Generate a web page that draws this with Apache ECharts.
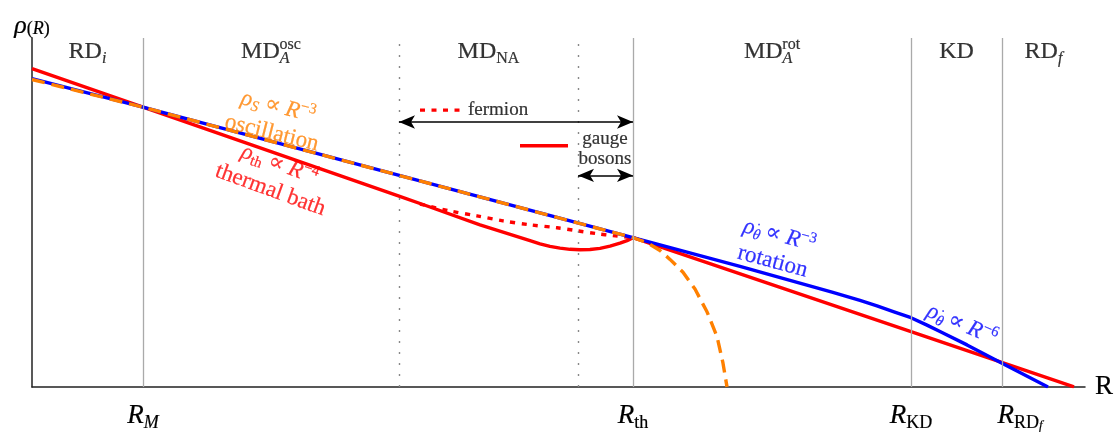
<!DOCTYPE html>
<html><head><meta charset="utf-8">
<script src="https://cdn.jsdelivr.net/npm/echarts@6/dist/echarts.min.js"></script>
<style>html,body{margin:0;padding:0;background:#fff}#c{width:1120px;height:432px}</style>
</head><body><div id="c"></div>
<script>
// Schematic: x = log R, y = log rho (arbitrary units)
const boundaries = [1.11, 3.67, 5.46, 6.01, 8.79, 9.70];
const boundaryDotted = [false, true, true, false, false, false];
const regionStart = [0, 1.11, 3.67, 6.01, 8.79, 9.70];
const regionEnd = [1.11, 3.67, 5.46, 8.79, 9.70, 10.53];
const regionMain = ['RD', 'MD', 'MD', 'MD', 'KD', 'RD'];
const regionSub = ['i', 'A', 'NA', 'A', '', 'f'];
const regionSup = ['', 'osc', '', 'rot', '', ''];
const tickValues = [1.11, 6.01, 8.79, 9.70];
const tickSub = ['M', 'th', 'KD', 'RD'];
const tickSubSub = ['', '', '', 'f'];

const thermalBosons = [[0,3.22],[1.11,2.83],[3.67,1.93],[3.98,1.82],[4.48,1.64],[4.98,1.48],[5.08,1.448],[5.18,1.422],[5.28,1.404],[5.38,1.392],[5.48,1.387],[5.58,1.39],[5.68,1.402],[5.78,1.424],[5.88,1.454],[5.95,1.48],[6.01,1.51],[8.79,0.56],[10.42,0]];
const thermalFermion = [[3.88,1.85],[4.18,1.78],[4.45,1.73],[4.71,1.68],[4.98,1.64],[5.25,1.61],[5.45,1.58],[5.65,1.55],[5.81,1.53],[6.01,1.51]];
const rotation = [[0,3.12],[1.11,2.83],[6.01,1.51],[7.08,1.22],[8.0,0.96],[8.28,0.875],[8.45,0.82],[8.62,0.76],[8.79,0.70],[8.95,0.625],[9.10,0.55],[9.35,0.425],[9.70,0.24],[10.16,0]];
const oscillation = [[0,3.11],[1.11,2.83],[6.01,1.51],[6.15,1.46],[6.28,1.38],[6.38,1.29],[6.51,1.16],[6.63,0.99],[6.75,0.76],[6.85,0.51],[6.91,0.24],[6.95,0]];
const fermionKey = [[3.88,2.80],[4.28,2.80]];
const bosonKey = [[4.88,2.44],[5.36,2.44]];
const fermionRange = [3.67, 6.01];
const bosonRange = [5.46, 6.01];

const SERIF = "'Liberation Serif','DejaVu Serif',serif";
const RED = '#ff0000', BLUE = '#0000ff', ORANGE = '#ff8000', INK = '#000';

function mkRich(color, F, Fs, L, Ls, bw) {
  const b = {color: color, fontFamily: SERIF, textBorderColor: color, textBorderWidth: bw == null ? 0.2 : bw};
  return {
    n: Object.assign({}, b, {fontSize: F, lineHeight: L}),
    i: Object.assign({}, b, {fontSize: F, lineHeight: L, fontStyle: 'italic'}),
    ipad: Object.assign({}, b, {fontSize: F, lineHeight: L, fontStyle: 'italic', padding: [0,0,0,36]}),
    sb: Object.assign({}, b, {fontSize: Fs, lineHeight: Ls, verticalAlign: 'bottom'}),
    sbi: Object.assign({}, b, {fontSize: Fs, lineHeight: Ls, verticalAlign: 'bottom', fontStyle: 'italic'}),
    sbd: Object.assign({}, b, {fontSize: Fs, lineHeight: Ls, padding: [0,0,0,-6.5]}),
    ssbi: Object.assign({}, b, {fontSize: Math.round(Fs*0.7), lineHeight: Math.round(Fs*0.4), verticalAlign: 'bottom', fontStyle: 'italic'}),
    sp: Object.assign({}, b, {fontSize: Fs, lineHeight: Ls, verticalAlign: 'top'}),
    spn: Object.assign({}, b, {fontSize: Fs, lineHeight: Ls, verticalAlign: 'top', padding: [0,0,0,-10]})
  };
}

const annotations = [
  {text: '{i|ρ}{sbi|S}{n| ∝ }{i|R}{sp|−3}\n{n|oscillation}', at: [2.43, 2.70], rotate: -14, color: ORANGE},
  {text: '{i|ρ}{sb|th}{n| ∝ }{i|R}{sp|−4}\n{n|thermal bath}', at: [2.43, 2.12], rotate: -20, color: RED},
  {text: '{i|ρ}{sbi|θ}{sbd|˙}{n| ∝ }{i|R}{sp|−3}\n{n|rotation}', at: [7.44, 1.40], rotate: -15, color: BLUE},
  {text: '{i|ρ}{sbi|θ}{sbd|˙}{n| ∝ }{i|R}{sp|−6}', at: [9.30, 0.63], rotate: -23, color: BLUE}
];

const annoData = annotations.map(a => ({
  value: a.at,
  label: {show: true, position: 'inside', rotate: a.rotate, formatter: a.text, align: 'center', verticalAlign: 'middle', lineHeight: 27, rich: mkRich(a.color, 23, 15, 27, 16)}
}));
// key texts
annoData.push({value: [4.36, 2.80], label: {show: true, position: 'right', distance: 0, formatter: '{n|fermion}', rich: mkRich(INK, 19, 13, 20, 14)}});
annoData.push({value: [5.73, 2.41], label: {show: true, position: 'inside', formatter: '{n|gauge}\n{n|bosons}', lineHeight: 20, rich: mkRich(INK, 19, 13, 20, 14)}});
// region labels
for (let k = 0; k < regionMain.length; k++) {
  let s = '{n|' + regionMain[k] + '}';
  if (regionSub[k]) {
    const italic = regionSub[k].length === 1;
    s += '{' + (italic ? 'sbi' : 'sb') + '|' + regionSub[k] + '}';
  }
  if (regionSup[k]) s += '{spn|' + regionSup[k] + '}';
  annoData.push({value: [(regionStart[k] + regionEnd[k]) / 2, 3.39],
    label: {show: true, position: 'inside', formatter: s, lineHeight: 30, rich: mkRich(INK, 24, 16, 30, 16)}});
}

const tickRich = mkRich(INK, 27, 18, 32, 18, 0.2);

const option = {
  animation: false,
  backgroundColor: '#fff',
  grid: {left: 32, right: 35, top: 38, bottom: 41},
  xAxis: {
    type: 'value', min: 0, max: 10.53,
    name: 'R', nameLocation: 'end', nameGap: 10,
    nameTextStyle: {fontFamily: SERIF, fontSize: 27, color: INK, verticalAlign: 'middle', textBorderColor: INK, textBorderWidth: 0.2},
    axisLine: {show: true, lineStyle: {color: '#222', width: 1.5}},
    axisTick: {show: false}, splitLine: {show: false},
    axisLabel: {
      show: true, customValues: tickValues, margin: 13, rich: tickRich,
      formatter: function (v) {
        let k = tickValues.findIndex(t => Math.abs(t - v) < 1e-6);
        if (k < 0) return '';
        const sub = tickSub[k];
        let s = (tickSubSub[k] ? '{ipad|R}' : '{i|R}') + '{' + (sub.length === 1 ? 'sbi' : 'sb') + '|' + sub + '}';
        if (tickSubSub[k]) s += '{ssbi|' + tickSubSub[k] + '}';
        return s;
      }
    }
  },
  yAxis: {
    type: 'value', min: 0, max: 3.53,
    name: '{i|ρ}{sb|(}{sbi|R}{sb|)}', nameLocation: 'end', nameGap: 0,
    nameTextStyle: {rich: mkRich(INK, 26, 18, 24, 14, 0.2), align: 'center'},
    axisLine: {show: true, lineStyle: {color: '#222', width: 1.5}},
    axisTick: {show: false}, axisLabel: {show: false}, splitLine: {show: false}
  },
  series: [
    {
      name: 'boundaries', type: 'line', data: [], silent: true, z: 1,
      markLine: {
        silent: true, symbol: ['none', 'none'], label: {show: false},
        data: boundaries.map((x, k) => ({xAxis: x, lineStyle: boundaryDotted[k] ? {type: [2, 9], color: '#888', width: 1.4} : {type: 'solid', color: '#aaa', width: 1.3}}))
      }
    },
    {
      name: 'arrows', type: 'line', data: [], silent: true, z: 6,
      markLine: {
        silent: true, symbol: ['arrow', 'arrow'], symbolSize: [10, 16], label: {show: false},
        lineStyle: {color: '#000', width: 1.6, type: 'solid'},
        data: [
          [{coord: [fermionRange[0], 2.68]}, {coord: [fermionRange[1], 2.68]}],
          [{coord: [bosonRange[0], 2.14]}, {coord: [bosonRange[1], 2.14]}]
        ]
      }
    },
    {name: 'fermion', type: 'line', data: thermalFermion, showSymbol: false, smooth: 0.3, z: 2, lineStyle: {color: RED, width: 3.4, type: [5, 6.5]}},
    {name: 'gauge bosons', type: 'line', data: thermalBosons, showSymbol: false, z: 2, lineStyle: {color: RED, width: 3.4}},
    {name: 'rotation', type: 'line', data: rotation, showSymbol: false, z: 3, lineStyle: {color: BLUE, width: 3.4}},
    {name: 'oscillation', type: 'line', data: oscillation, showSymbol: false, z: 4, lineStyle: {color: ORANGE, width: 3.4, type: [13, 7]}},
    {name: 'fermionKey', type: 'line', data: fermionKey, showSymbol: false, z: 4, lineStyle: {color: RED, width: 3.4, type: [5, 6.5]}},
    {name: 'bosonKey', type: 'line', data: bosonKey, showSymbol: false, z: 4, lineStyle: {color: RED, width: 3.4}},
    {name: 'labels', type: 'scatter', data: annoData, symbolSize: 0, silent: true, z: 10, itemStyle: {color: '#000'}}
  ]
};
const chart = echarts.init(document.getElementById('c'), null, {renderer: 'canvas'});
chart.setOption(option);
</script></body></html>
